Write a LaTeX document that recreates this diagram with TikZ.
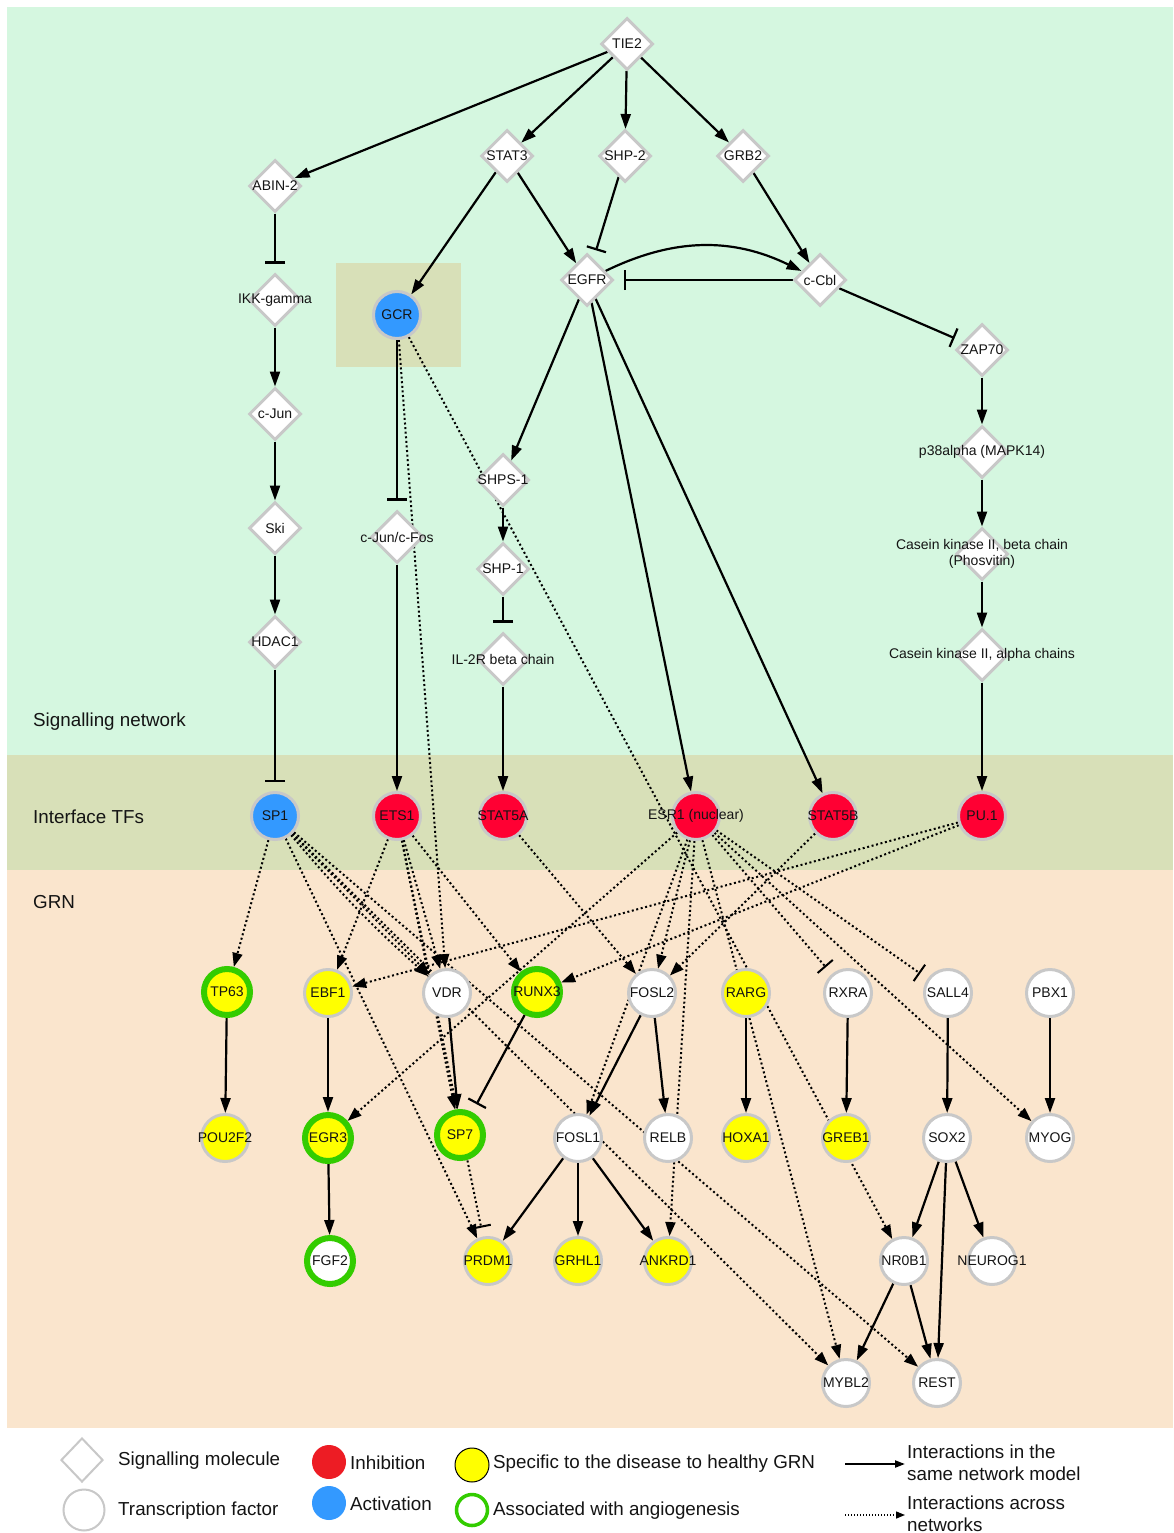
\documentclass[tikz,border=0pt]{standalone}
\usepackage{fontspec}
\setmainfont{Liberation Sans}
\usetikzlibrary{shapes.geometric,arrows.meta}
\pgfdeclarelayer{bg}
\pgfdeclarelayer{edges}
\pgfsetlayers{bg,edges,main}
\definecolor{sigbg}{RGB}{213,247,224}
\definecolor{ifbg}{RGB}{216,224,184}
\definecolor{grnbg}{RGB}{250,229,205}
\definecolor{ngray}{RGB}{200,200,200}
\definecolor{nblue}{RGB}{51,153,255}
\definecolor{nred}{RGB}{255,0,51}
\definecolor{lred}{RGB}{237,28,36}
\definecolor{nyel}{RGB}{255,255,0}
\definecolor{rgreen}{RGB}{51,204,0}
\definecolor{txt}{RGB}{20,20,20}
\tikzset{
 sig/.style={diamond, draw=ngray, line width=3pt, fill=white, minimum width=52pt, minimum height=52pt, inner sep=0pt},
 tf/.style={circle, draw=ngray, line width=3pt, fill=white, minimum size=47pt, inner sep=0pt},
 ang/.style={draw=rgreen, line width=6pt, minimum size=46pt},
 lab/.style={font=\fontsize{14}{16.5}\selectfont, text=txt, inner sep=0pt, align=center},
 big/.style={font=\fontsize{18.8}{22}\selectfont, text=txt, inner sep=0pt, anchor=west, align=left},
 act/.style={line width=2.2pt, -{Triangle[length=15pt,width=10pt]}},
 inh/.style={line width=2.2pt, -{Bar[width=20pt,line width=2.2pt]}, shorten >=9pt},
 xline/.style={line width=2pt, dash pattern=on 2pt off 2.6pt},
 xact/.style={xline, -{Triangle[length=14pt,width=10pt]}},
 xinh/.style={xline, -{Bar[width=20pt,line width=2pt]}, shorten >=9pt},
}
\begin{document}
\begin{tikzpicture}[x=1pt,y=-1pt]
\useasboundingbox (0,0) rectangle (1173,1533);
\begin{pgfonlayer}{bg}
\fill[white] (0,0) rectangle (1173,1533);
\fill[sigbg] (7,7) rectangle (1173,755);
\fill[ifbg] (7,755) rectangle (1173,870);
\fill[grnbg] (7,870) rectangle (1173,1428);
\fill[ifbg] (336,263) rectangle (461,367);
\end{pgfonlayer}

% band labels
\node[big] (lsig) at (33,722) {Signalling network};
\node[big] (lif) at (33,817) {Interface TFs};
\node[big] (lgrn) at (33,902) {GRN};

% signalling molecules
\node[sig, label={[lab]center:TIE2}] (tie2) at (627,44) {};
\node[sig, label={[lab]center:STAT3}] (stat3) at (507,156) {};
\node[sig, label={[lab]center:SHP-2}] (shp2) at (625,156) {};
\node[sig, label={[lab]center:GRB2}] (grb2) at (743,156) {};
\node[sig, label={[lab]center:ABIN-2}] (abin) at (275,186) {};
\node[sig, label={[lab]center:EGFR}] (egfr) at (587,280) {};
\node[sig, label={[lab]center:c-Cbl}] (ccbl) at (820,280) {};
\node[sig, label={[lab]center:IKK-gamma}] (ikk) at (275,300) {};
\node[sig, label={[lab]center:ZAP70}] (zap70) at (982,350) {};
\node[sig, label={[lab]center:c-Jun}] (cjun) at (275,414) {};
\node[sig, label={[lab]center:{p38alpha (MAPK14)}}] (p38) at (982,452) {};
\node[sig, label={[lab]center:SHPS-1}] (shps) at (503,480) {};
\node[sig, label={[lab]center:Ski}] (ski) at (275,528) {};
\node[sig, label={[lab]center:c-Jun/c-Fos}] (cjfos) at (397,537) {};
\node[sig, label={[lab]center:{Casein kinase II, beta chain\\(Phosvitin)}}] (ckb) at (982,554) {};
\node[sig, label={[lab]center:SHP-1}] (shp1) at (503,569) {};
\node[sig, label={[lab]center:HDAC1}] (hdac) at (275,642) {};
\node[sig, label={[lab]center:{IL-2R beta chain}}] (il2r) at (503,659) {};
\node[sig, label={[lab]center:{Casein kinase II, alpha chains}}] (cka) at (982,655) {};
\node[tf, fill=nblue, label={[lab]center:GCR}] (gcr) at (397,315) {};

% interface TFs
\node[tf, fill=nblue, label={[lab]center:SP1}] (sp1) at (275,816) {};
\node[tf, fill=nred, label={[lab]center:ETS1}] (ets1) at (397,816) {};
\node[tf, fill=nred, label={[lab]center:STAT5A}] (stat5a) at (503,816) {};
\node[tf, fill=nred, label={[lab]center:{ESR1 (nuclear)}}] (esr1) at (696,816) {};
\node[tf, fill=nred, label={[lab]center:STAT5B}] (stat5b) at (833,816) {};
\node[tf, fill=nred, label={[lab]center:PU.1}] (pu1) at (982,816) {};

% GRN row 1
\node[tf, ang, fill=nyel, label={[lab]center:TP63}] (tp63) at (227,992) {};
\node[tf, fill=nyel, label={[lab]center:EBF1}] (ebf1) at (328,993) {};
\node[tf, label={[lab]center:VDR}] (vdr) at (447,993) {};
\node[tf, ang, fill=nyel, label={[lab]center:RUNX3}] (runx3) at (537,992) {};
\node[tf, label={[lab]center:FOSL2}] (fosl2) at (652,993) {};
\node[tf, fill=nyel, label={[lab]center:RARG}] (rarg) at (746,993) {};
\node[tf, label={[lab]center:RXRA}] (rxra) at (848,993) {};
\node[tf, label={[lab]center:SALL4}] (sall4) at (948,993) {};
\node[tf, label={[lab]center:PBX1}] (pbx1) at (1050,993) {};
% row 2
\node[tf, fill=nyel, label={[lab]center:POU2F2}] (pou2f2) at (225,1138) {};
\node[tf, ang, fill=nyel, label={[lab]center:EGR3}] (egr3) at (328,1138) {};
\node[tf, ang, fill=nyel, label={[lab]center:SP7}] (sp7) at (460,1135) {};
\node[tf, label={[lab]center:FOSL1}] (fosl1) at (578,1138) {};
\node[tf, label={[lab]center:RELB}] (relb) at (668,1138) {};
\node[tf, fill=nyel, label={[lab]center:HOXA1}] (hoxa1) at (746,1138) {};
\node[tf, fill=nyel, label={[lab]center:GREB1}] (greb1) at (846,1138) {};
\node[tf, label={[lab]center:SOX2}] (sox2) at (947,1138) {};
\node[tf, label={[lab]center:MYOG}] (myog) at (1050,1138) {};
% row 3
\node[tf, ang, label={[lab]center:FGF2}] (fgf2) at (330,1261) {};
\node[tf, fill=nyel, label={[lab]center:PRDM1}] (prdm1) at (488,1261) {};
\node[tf, fill=nyel, label={[lab]center:GRHL1}] (grhl1) at (578,1261) {};
\node[tf, fill=nyel, label={[lab]center:ANKRD1}] (ankrd1) at (668,1261) {};
\node[tf, label={[lab]center:NR0B1}] (nr0b1) at (904,1261) {};
\node[tf, label={[lab]center:NEUROG1}] (neurog1) at (992,1261) {};
% row 4
\node[tf, label={[lab]center:MYBL2}] (mybl2) at (846,1383) {};
\node[tf, label={[lab]center:REST}] (rest) at (937,1383) {};

\begin{pgfonlayer}{edges}
% signalling network
\draw[act] (tie2) -- (abin);
\draw[act] (tie2) -- (stat3);
\draw[act] (tie2) -- (shp2);
\draw[act] (tie2) -- (grb2);
\draw[act] (stat3) -- (gcr);
\draw[act] (stat3) -- (egfr);
\draw[inh] (shp2) -- (egfr);
\draw[act] (grb2) -- (ccbl);
\draw[act] (egfr) to[bend left=26] (ccbl);
\draw[inh] (ccbl) -- (egfr);
\draw[inh] (ccbl) -- (zap70);
\draw[act] (zap70) -- (p38);
\draw[act] (p38) -- (ckb);
\draw[act] (ckb) -- (cka);
\draw[act] (cka) -- (pu1);
\draw[inh] (abin) -- (ikk);
\draw[act] (ikk) -- (cjun);
\draw[act] (cjun) -- (ski);
\draw[act] (ski) -- (hdac);
\draw[inh] (hdac) -- (sp1);
\draw[inh] (gcr) -- (cjfos);
\draw[act] (cjfos) -- (ets1);
\draw[act] (egfr) -- (shps);
\draw[act] (shps) -- (shp1);
\draw[inh] (shp1) -- (il2r);
\draw[act] (il2r) -- (stat5a);
\draw[act] (egfr) -- (esr1);
\draw[act] (egfr) -- (stat5b);
% across networks
\draw[xact] (gcr) -- (vdr);
\draw[xact] (gcr) -- (nr0b1);
\draw[xact] (sp1) -- (tp63);
\draw[xact] (sp1) -- (prdm1);
\draw[xact] (sp1) -- (vdr);
\draw[xact] (sp1) to[bend right=4] (vdr);
\draw[xact] (sp1) -- (mybl2);
\draw[xact] (sp1) -- (rest);
\draw[xact] (ets1) -- (ebf1);
\draw[xact] (ets1) -- (vdr);
\draw[xact] (ets1) -- (sp7);
\draw[xinh] (ets1) -- (prdm1);
\draw[xact] (ets1) -- (runx3);
\draw[xact] (stat5a) -- (fosl2);
\draw[xact] (esr1) -- (egr3);
\draw[xact] (esr1) -- (fosl2);
\draw[xact] (esr1) -- (fosl1);
\draw[xact] (esr1) -- (ankrd1);
\draw[xact] (esr1) -- (mybl2);
\draw[xinh] (esr1) -- (rxra);
\draw[xinh] (esr1) -- (sall4);
\draw[xact] (esr1) -- (myog);
\draw[xact] (stat5b) -- (fosl2);
\draw[xact] (pu1) -- (ebf1);
\draw[xact] (pu1) -- (runx3);
% GRN
\draw[act] (tp63) -- (pou2f2);
\draw[act] (ebf1) -- (egr3);
\draw[act] (egr3) -- (fgf2);
\draw[act] (vdr) -- (sp7);
\draw[inh] (runx3) -- (sp7);
\draw[act] (fosl2) -- (fosl1);
\draw[act] (fosl2) -- (relb);
\draw[act] (rarg) -- (hoxa1);
\draw[act] (rxra) -- (greb1);
\draw[act] (sall4) -- (sox2);
\draw[act] (pbx1) -- (myog);
\draw[act] (fosl1) -- (prdm1);
\draw[act] (fosl1) -- (grhl1);
\draw[act] (fosl1) -- (ankrd1);
\draw[act] (sox2) -- (nr0b1);
\draw[act] (sox2) -- (rest);
\draw[act] (sox2) -- (neurog1);
\draw[act] (nr0b1) -- (mybl2);
\draw[act] (nr0b1) -- (rest);
\end{pgfonlayer}

% legend
\node[diamond, draw=ngray, line width=2pt, fill=white, minimum width=42pt, minimum height=44pt, inner sep=0pt] (lgsig) at (82,1460) {};
\node[big] (lgsigt) at (118,1461) {Signalling molecule};
\node[circle, draw=ngray, line width=2pt, fill=white, minimum size=41pt, inner sep=0pt] (lgtf) at (84,1510) {};
\node[big] (lgtft) at (118,1511) {Transcription factor};
\node[circle, fill=lred, minimum size=34pt, inner sep=0pt] (lginh) at (329,1462) {};
\node[big] (lginht) at (350,1463) {Inhibition};
\node[circle, fill=nblue, minimum size=34pt, inner sep=0pt] (lgact) at (329,1503) {};
\node[big] (lgactt) at (350,1504) {Activation};
\node[circle, fill=nyel, draw=black, line width=1pt, minimum size=34pt, inner sep=0pt] (lgyel) at (472,1465) {};
\node[big] (lgyelt) at (493,1464) {Specific to the disease to healthy GRN};
\node[circle, draw=rgreen, line width=3.5pt, fill=white, minimum size=31pt, inner sep=0pt] (lgang) at (472,1510) {};
\node[big] (lgangt) at (493,1511) {Associated with angiogenesis};
\coordinate (la1) at (845,1464);
\coordinate (la2) at (905,1464);
\draw[line width=2pt, -{Triangle[length=10pt,width=7pt]}] (la1) -- (la2);
\node[big] (lgsame) at (907,1463) {Interactions in the\\same network model};
\coordinate (lb1) at (845,1515);
\coordinate (lb2) at (905,1515);
\draw[line width=1.4pt, dash pattern=on 1.4pt off 1.6pt, -{Triangle[length=9pt,width=7pt]}] (lb1) -- (lb2);
\node[big] (lgacross) at (907,1514) {Interactions across\\networks};
\end{tikzpicture}
\end{document}
